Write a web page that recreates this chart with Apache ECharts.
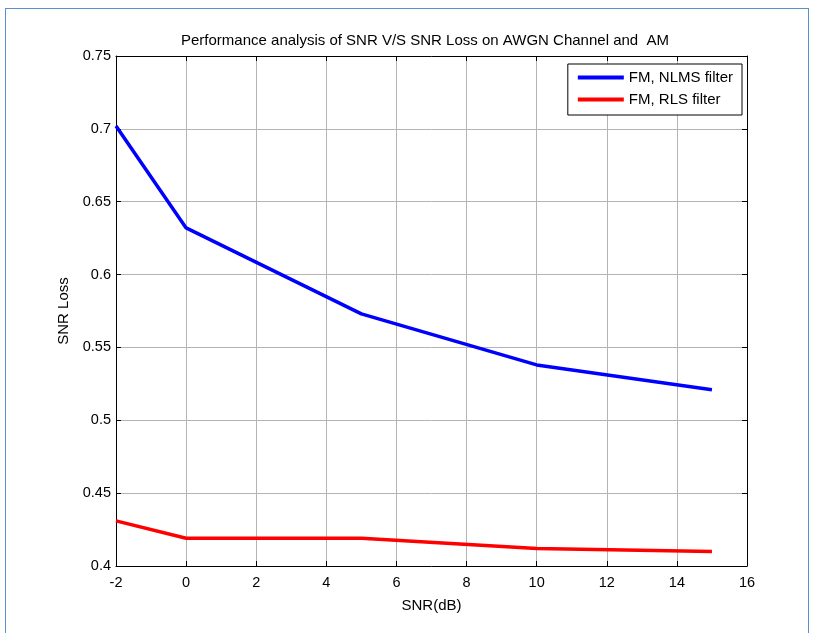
<!DOCTYPE html>
<html>
<head>
<meta charset="utf-8">
<script src="https://cdn.jsdelivr.net/npm/echarts@6/dist/echarts.min.js"></script>
<style>
    html, body { margin: 0; padding: 0; background: #fff; }
    #frame {
        position: absolute; left: 5px; top: 8px; width: 802px; height: 640px;
        border: 1px solid #5b8fd0; border-bottom: none;
    }
    #chart { position: absolute; left: 0; top: 0; width: 814px; height: 633px; }
</style>
</head>
<body>
<div id="frame"></div>
<div id="chart"></div>
<script>
    // data
    const snr = [-2, 0, 5, 10, 15];
    const nlms = [0.702, 0.632, 0.573, 0.538, 0.521];
    const rls = [0.431, 0.419, 0.419, 0.412, 0.410];
    const seriesNames = ['FM, NLMS filter', 'FM, RLS filter'];
    const titleText = 'Performance analysis of SNR V/S SNR Loss on AWGN Channel and  AM';

    const font = 'Liberation Sans, Arial, sans-serif';
    let chart = echarts.init(document.getElementById('chart'), null, {renderer: 'canvas'});

    function pairs(xs, ys) {
        return xs.map((x, i) => [x, ys[i]]);
    }

    let gridLine = {show: true, lineStyle: {color: '#b4b4b4', width: 1}};
    let axisLine = {show: true, onZero: false, lineStyle: {color: '#000', width: 1}};
    let tick = {show: true, inside: true, length: 5, lineStyle: {color: '#000'}};
    let label = {color: '#000', fontSize: 14.5, fontFamily: font};

    let option = {
        animation: false,
        title: {
            text: titleText,
            left: 420, top: 28, textAlign: 'center',
            textStyle: {fontSize: 15, fontWeight: 'normal', color: '#000', fontFamily: font}
        },
        grid: {left: 116, right: 67, top: 56, bottom: 67},
        legend: {
            right: 72, top: 64, orient: 'vertical',
            backgroundColor: '#fff', borderColor: '#000', borderWidth: 1,
            padding: [5, 9, 7, 10], itemGap: 5,
            itemWidth: 46, itemHeight: 4, icon: 'rect',
            textStyle: {fontSize: 15, lineHeight: 17, color: '#000', fontFamily: font},
            data: seriesNames
        },
        xAxis: [{
            type: 'value', min: -2, max: 16, interval: 2, position: 'bottom',
            name: 'SNR(dB)', nameLocation: 'middle', nameGap: 32,
            nameTextStyle: {fontSize: 15, color: '#000', fontFamily: font},
            axisLine: axisLine, axisTick: tick, splitLine: gridLine,
            axisLabel: Object.assign({margin: 9}, label)
        }, {
            type: 'value', min: -2, max: 16, interval: 2, position: 'top',
            axisLine: axisLine, axisTick: tick, splitLine: {show: false},
            axisLabel: {show: false}
        }],
        yAxis: [{
            type: 'value', min: 0.4, max: 0.75, interval: 0.05, position: 'left',
            name: 'SNR Loss', nameLocation: 'middle', nameGap: 45,
            nameTextStyle: {fontSize: 15, color: '#000', fontFamily: font},
            axisLine: axisLine, axisTick: tick, splitLine: gridLine,
            axisLabel: Object.assign({margin: 5, formatter: v => +v.toFixed(2) + ''}, label)
        }, {
            type: 'value', min: 0.4, max: 0.75, interval: 0.05, position: 'right',
            axisLine: axisLine, axisTick: tick, splitLine: {show: false},
            axisLabel: {show: false}
        }],
        series: [{
            name: seriesNames[0], type: 'line', showSymbol: false,
            data: pairs(snr, nlms),
            lineStyle: {color: '#0000ff', width: 3.5}, itemStyle: {color: '#0000ff'}
        }, {
            name: seriesNames[1], type: 'line', showSymbol: false,
            data: pairs(snr, rls),
            lineStyle: {color: '#ff0000', width: 3.5}, itemStyle: {color: '#ff0000'}
        }]
    };
    chart.setOption(option);
</script>
</body>
</html>
